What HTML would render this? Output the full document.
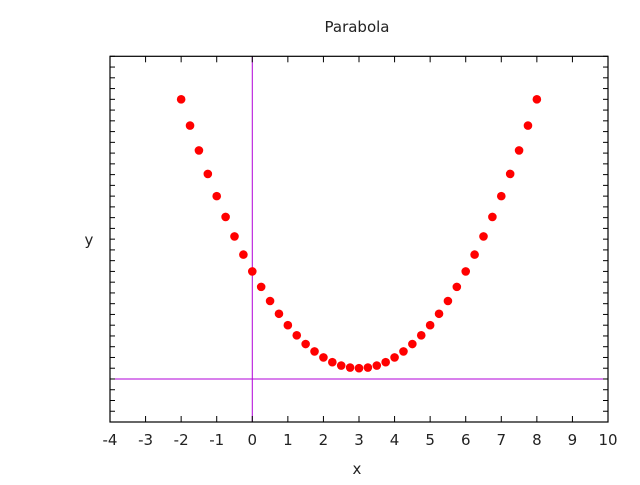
<!DOCTYPE html>
<html><head><meta charset="utf-8"><style>
html,body{margin:0;padding:0;background:#fff;}
svg text{font-family:"DejaVu Sans","Liberation Sans",sans-serif;font-size:15px;fill:#222;}
</style></head><body>
<svg id="s" width="640" height="480" xmlns="http://www.w3.org/2000/svg">
<rect width="640" height="480" fill="#fff"/>
<text x="357" y="32" text-anchor="middle">Parabola</text>
<text x="357" y="474" text-anchor="middle">x</text>
<text x="89" y="245" text-anchor="middle">y</text>
<g id="g"></g>
</svg>
<script>
var L=110,R=608,T=56.3,B=422;
function X(v){return L+(v+4)*(R-L)/14;}
function Y(v){return B-(v+4)*(B-T)/34;}
var h='';
h+='<line x1="'+X(0)+'" y1="'+T+'" x2="'+X(0)+'" y2="'+B+'" stroke="#b000d8" stroke-width="1"/>';
h+='<line x1="'+L+'" y1="'+Y(0)+'" x2="'+R+'" y2="'+Y(0)+'" stroke="#b000d8" stroke-width="1"/>';
for(var i=-4;i<=10;i++){var x=X(i);
h+='<line x1="'+x+'" y1="'+B+'" x2="'+x+'" y2="'+(B-6)+'" stroke="#000"/>';
h+='<line x1="'+x+'" y1="'+T+'" x2="'+x+'" y2="'+(T+6)+'" stroke="#000"/>';
h+='<text x="'+x+'" y="445" text-anchor="middle">'+i+'</text>';}
for(var j=-4;j<=30;j++){var y=Y(j);
h+='<line x1="'+L+'" y1="'+y+'" x2="'+(L+5)+'" y2="'+y+'" stroke="#000"/>';
h+='<line x1="'+R+'" y1="'+y+'" x2="'+(R-5)+'" y2="'+y+'" stroke="#000"/>';}
h+='<rect x="'+L+'" y="'+T+'" width="'+(R-L)+'" height="'+(B-T)+'" fill="none" stroke="#000" stroke-width="1.2"/>';
for(var k=0;k<=40;k++){var v=-2+k*0.25;
h+='<circle cx="'+X(v)+'" cy="'+Y((v-3)*(v-3)+1)+'" r="4.3" fill="#f00"/>';}
document.getElementById('g').innerHTML=h;
</script>
</body></html>
